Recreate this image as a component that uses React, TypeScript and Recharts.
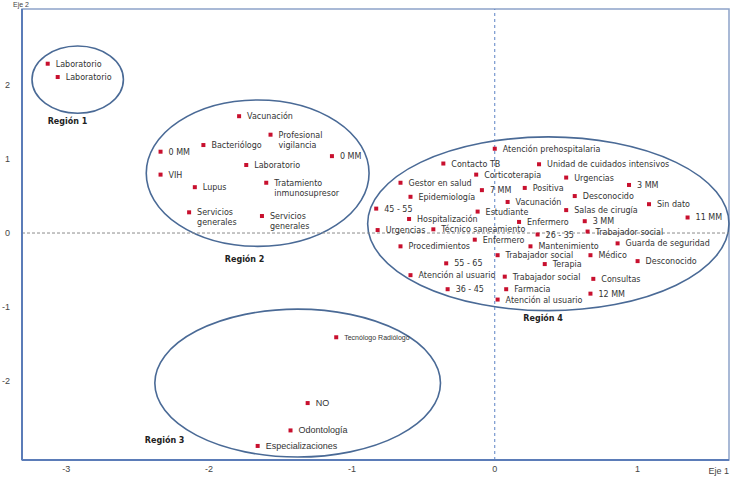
import React from "react";
import {
  ScatterChart,
  Scatter,
  XAxis,
  YAxis,
  ReferenceLine,
  ReferenceArea,
  ReferenceDot
} from "recharts";

type Pt = { name: string; x: number; y: number };

// puntos por región (coordenadas Eje 1 / Eje 2)
const region1: Pt[] = [
  { name: "Laboratorio", x: -3.13, y: 2.29 },
  { name: "Laboratorio", x: -3.06, y: 2.11 }
];

const region2: Pt[] = [
  { name: "Vacunación", x: -1.79, y: 1.58 },
  { name: "Profesional\nvigilancia", x: -1.57, y: 1.33 },
  { name: "Bacteriólogo", x: -2.04, y: 1.19 },
  { name: "0 MM", x: -2.34, y: 1.1 },
  { name: "0 MM", x: -1.14, y: 1.04 },
  { name: "Laboratorio", x: -1.74, y: 0.92 },
  { name: "VIH", x: -2.34, y: 0.79 },
  { name: "Tratamiento\ninmunosupresor", x: -1.6, y: 0.68 },
  { name: "Lupus", x: -2.1, y: 0.62 },
  { name: "Servicios\ngenerales", x: -2.14, y: 0.28 },
  { name: "Servicios\ngenerales", x: -1.63, y: 0.23 }
];

const region3: Pt[] = [
  { name: "Tecnólogo Radiólogo", x: -1.11, y: -1.41 },
  { name: "NO", x: -1.31, y: -2.3 },
  { name: "Odontología", x: -1.43, y: -2.67 },
  { name: "Especializaciones", x: -1.66, y: -2.88 }
];

const region4: Pt[] = [
  { name: "Atención prehospitalaria", x: 0.0, y: 1.14 },
  { name: "Contacto TB", x: -0.36, y: 0.94 },
  { name: "Unidad de cuidados intensivos", x: 0.31, y: 0.93 },
  { name: "Corticoterapia", x: -0.13, y: 0.79 },
  { name: "Urgencias", x: 0.5, y: 0.75 },
  { name: "Gestor en salud", x: -0.66, y: 0.68 },
  { name: "3 MM", x: 0.94, y: 0.65 },
  { name: "7 MM", x: -0.09, y: 0.58 },
  { name: "Positiva", x: 0.21, y: 0.61 },
  { name: "Epidemiología", x: -0.59, y: 0.49 },
  { name: "Desconocido", x: 0.56, y: 0.5 },
  { name: "Vacunación", x: 0.09, y: 0.42 },
  { name: "Sin dato", x: 1.08, y: 0.39 },
  { name: "45 - 55", x: -0.83, y: 0.33 },
  { name: "Estudiante", x: -0.12, y: 0.29 },
  { name: "Salas de cirugía", x: 0.5, y: 0.31 },
  { name: "11 MM", x: 1.35, y: 0.21 },
  { name: "Hospitalización", x: -0.6, y: 0.19 },
  { name: "Enfermero", x: 0.17, y: 0.15 },
  { name: "3 MM", x: 0.63, y: 0.16 },
  { name: "Urgencias", x: -0.82, y: 0.04 },
  { name: "Técnico saneamiento", x: -0.43, y: 0.05 },
  { name: "26 - 35", x: 0.3, y: -0.02 },
  { name: "Trabajador social", x: 0.65, y: 0.02 },
  { name: "Enfermero", x: -0.14, y: -0.09 },
  { name: "Mantenimiento", x: 0.25, y: -0.18 },
  { name: "Guarda de seguridad", x: 0.86, y: -0.14 },
  { name: "Procedimientos", x: -0.66, y: -0.18 },
  { name: "Trabajador social", x: 0.02, y: -0.3 },
  { name: "Médico", x: 0.67, y: -0.3 },
  { name: "55 - 65", x: -0.34, y: -0.41 },
  { name: "Terapia", x: 0.35, y: -0.42 },
  { name: "Desconocido", x: 1.0, y: -0.38 },
  { name: "Atención al usuario", x: -0.59, y: -0.57 },
  { name: "Trabajador social", x: 0.07, y: -0.59 },
  { name: "Consultas", x: 0.69, y: -0.62 },
  { name: "36 - 45", x: -0.33, y: -0.76 },
  { name: "Farmacia", x: 0.08, y: -0.76 },
  { name: "12 MM", x: 0.67, y: -0.82 },
  { name: "Atención al usuario", x: 0.02, y: -0.9 }
];

// contornos de las regiones (límites en unidades de los ejes)
const regionBounds = [
  { id: "r1", x1: -3.24, x2: -2.6, y1: 1.62, y2: 2.53 },
  { id: "r2", x1: -2.44, x2: -0.88, y1: -0.18, y2: 1.8 },
  { id: "r3", x1: -2.38, x2: -0.38, y1: -3.03, y2: -1.03 },
  { id: "r4", x1: -0.89, x2: 1.64, y1: -1.05, y2: 1.3 }
];

const regionTitles = [
  { name: "Región 1", x: -3.13, y: 1.51 },
  { name: "Región 2", x: -1.89, y: -0.36 },
  { name: "Región 3", x: -2.45, y: -2.81 },
  { name: "Región 4", x: 0.2, y: -1.15 }
];

const xTicks = [-3, -2, -1, 0, 1];
const yTicks = [-2, -1, 0, 1, 2];
const xDomain = [-3.31, 1.64];
const yDomain = [-3.07, 3.03];

const RED = "#c8102e";
const VERDANA = "DejaVu Sans, Verdana, sans-serif";
const NARROW = "Liberation Sans, Arial, sans-serif";

const makeShape = (family: string, size: number, sizes: Record<string, number> = {}) =>
  (props: any) => {
    const { cx, cy, payload } = props;
    const lines: string[] = payload.name.split("\n");
    const fs = sizes[payload.name] ?? size;
    return (
      <g>
        <rect x={cx - 2} y={cy - 2} width={4} height={4} fill={RED} />
        <text x={cx + 8} y={cy} fontFamily={family} fontSize={fs} fill="#333" dominantBaseline="central">
          {lines.map((l, i) => (
            <tspan key={i} x={cx + 8} dy={i === 0 ? 0 : 10}>
              {l}
            </tspan>
          ))}
        </text>
      </g>
    );
  };

const ellipseShape = (p: any) => (
  <ellipse
    cx={p.x + p.width / 2}
    cy={p.y + p.height / 2}
    rx={Math.abs(p.width) / 2}
    ry={Math.abs(p.height) / 2}
    fill="none"
    stroke="#4a6a96"
    strokeWidth={1.6}
  />
);

export default function App() {
  return (
    <div style={{ position: "absolute", left: 0, top: 0, background: "#fff" }}>
      <ScatterChart width={732} height={481} margin={{ top: 9, right: 3, left: 0, bottom: 0 }}>
        <XAxis
          type="number"
          dataKey="x"
          domain={xDomain}
          ticks={xTicks}
          allowDataOverflow
          height={21}
          tickLine={false}
          tickSize={0}
          tickMargin={6}
          axisLine={{ stroke: "#5b7cb8", strokeWidth: 2 }}
          tick={{ fontSize: 9, fill: "#444", fontFamily: NARROW }}
          label={{ value: "Eje 1", position: "insideRight", offset: 0, fontSize: 9, fill: "#444", fontFamily: NARROW }}
        />
        <YAxis
          type="number"
          dataKey="y"
          domain={yDomain}
          ticks={yTicks}
          allowDataOverflow
          width={22}
          tickLine={false}
          tickSize={0}
          tickMargin={12}
          axisLine={{ stroke: "#5b7cb8", strokeWidth: 2 }}
          tick={{ fontSize: 9, fill: "#444", fontFamily: NARROW }}
          label={{
            content: (p: any) => (
              <text x={p.viewBox.x + 13} y={p.viewBox.y - 2} fontSize={7} fill="#444" fontFamily={NARROW}>
                Eje 2
              </text>
            )
          }}
        />
        <ReferenceArea
          x1={xDomain[0]}
          x2={xDomain[1]}
          y1={yDomain[0]}
          y2={yDomain[1]}
          fill="none"
          stroke="#8da3c9"
          strokeWidth={1.5}
          ifOverflow="visible"
        />
        {regionBounds.map((r) => (
          <ReferenceArea key={r.id} x1={r.x1} x2={r.x2} y1={r.y1} y2={r.y2} ifOverflow="visible" shape={ellipseShape} />
        ))}
        <ReferenceLine y={0} stroke="#8c8c8c" strokeDasharray="3 2" />
        <ReferenceLine x={0} stroke="#5b82c4" strokeDasharray="3 3" />
        {regionTitles.map((t) => (
          <ReferenceDot
            key={t.name}
            x={t.x}
            y={t.y}
            r={0}
            ifOverflow="visible"
            shape={(p: any) => (
              <text x={p.cx} y={p.cy} dominantBaseline="central" fontFamily={VERDANA} fontWeight="bold" fontSize={8} fill="#222">
                {t.name}
              </text>
            )}
          />
        ))}
        <Scatter data={region1} isAnimationActive={false} shape={makeShape(VERDANA, 8)} />
        <Scatter data={region2} isAnimationActive={false} shape={makeShape(VERDANA, 8)} />
        <Scatter data={region3} isAnimationActive={false} shape={makeShape(NARROW, 9, { "Tecnólogo Radiólogo": 7 })} />
        <Scatter data={region4} isAnimationActive={false} shape={makeShape(VERDANA, 8)} />
      </ScatterChart>
    </div>
  );
}
